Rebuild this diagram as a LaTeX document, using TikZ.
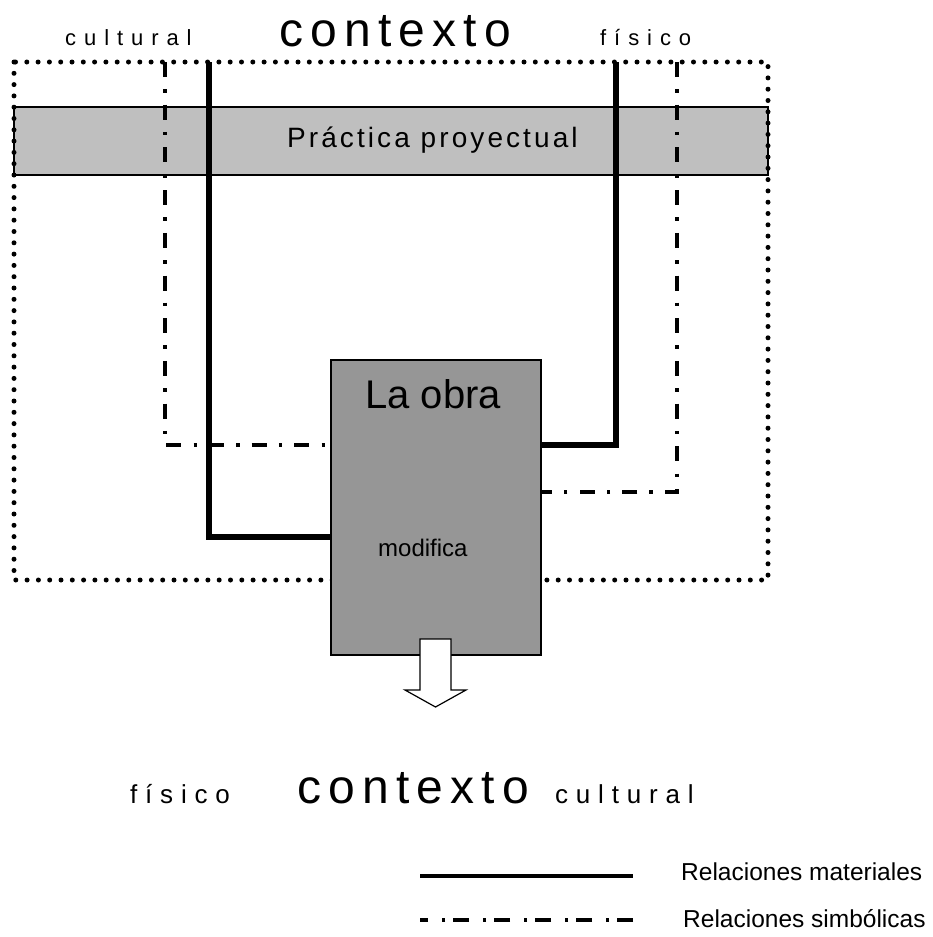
\documentclass[tikz,border=0pt]{standalone}
\usepackage{fontspec}
\setmainfont{Liberation Sans}
\usetikzlibrary{positioning}

\begin{document}
\begin{tikzpicture}[x=1pt, y=-1pt]
        \tikzstyle{material}=[line width=5.5pt]
        \tikzstyle{symbolic}=[line width=4pt, dash pattern=on 15pt off 12.2pt on 3.5pt off 12pt]
        \tikzstyle{frame}=[line width=5pt, line cap=round, dash pattern=on 0pt off 11.3pt]
        \tikzstyle{word}=[inner sep=0pt, anchor=base west]
        \tikzstyle{big-word}=[word, font=\fontsize{48}{56}\selectfont\addfontfeature{LetterSpace=15}]
        \tikzstyle{side-word}=[word, font=\fontsize{22}{26}\selectfont\addfontfeature{LetterSpace=36}]
        \tikzstyle{low-word}=[word, font=\fontsize{26}{30}\selectfont\addfontfeature{LetterSpace=30}]
        \tikzstyle{legend-word}=[word, font=\fontsize{24.5}{28}\selectfont]
        \useasboundingbox (0,0) rectangle (932,937);

        % top labels
        \node[side-word] (cultural-top) at (65,45) {cultural};
        \node[big-word] (contexto-top) at (279,46) {contexto};
        \node[side-word] (fisico-top) at (600,45) {físico};

        % practica band
        \node[draw, line width=1.5pt, fill=black!25, minimum width=754pt, minimum height=68pt, inner sep=0pt] (band) at (391,141) {};
        \node[word, font=\fontsize{28}{32}\selectfont\addfontfeature{LetterSpace=11}] (practica) at (287,147) {Práctica proyectual};

        % context frame
        \draw[frame] (14,62) rectangle (768,580);

        % la obra
        \node[draw, line width=1.5pt, fill=black!41, minimum width=210pt, minimum height=295pt, inner sep=0pt] (obra) at (436,507.5) {};
        \node[word, font=\fontsize{40}{46}\selectfont] (obra-title) at (365,408) {La obra};
        \node[word, font=\fontsize{24}{28}\selectfont] (modifica) at (378,556) {modifica};

        % relations
        \coordinate (sym-left) at (165,62);
        \coordinate (mat-left) at (209,62);
        \coordinate (mat-right) at (616,62);
        \coordinate (sym-right) at (677,62);
        \draw[symbolic] (sym-left) |- (obra.west |- 0,445);
        \draw[material] (mat-left) |- (obra.west |- 0,537);
        \draw[material] (mat-right) |- (obra.east |- 0,445);
        \draw[symbolic] (sym-right) |- (obra.east |- 0,492);

        % outcome arrow
        \draw[line width=1.2pt, fill=white] (420,639) -- (451,639) -- (451,690) -- (466,690) -- (435.5,707) -- (405,690) -- (420,690) -- cycle;

        % bottom labels
        \node[low-word] (fisico-low) at (130,803) {físico};
        \node[big-word] (contexto-low) at (297,803) {contexto};
        \node[low-word] (cultural-low) at (555,803) {cultural};

        % legend
        \coordinate (mat-sample) at (420,876);
        \coordinate (sym-sample) at (633,920);
        \node[legend-word] (mat-legend) at (681,880) {Relaciones materiales};
        \node[legend-word] (sym-legend) at (683,927) {Relaciones simbólicas};
        \draw[material, line width=4pt] (mat-sample) -- +(213,0);
        \draw[symbolic, dash pattern=on 16pt off 8pt on 3pt off 14pt] (sym-sample) -- +(-213,0);
\end{tikzpicture}
\end{document}
